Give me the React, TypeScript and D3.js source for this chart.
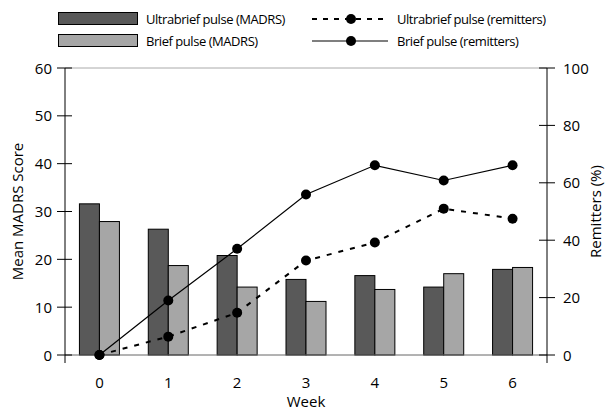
import React from "react";
import * as d3 from "d3";

const weeks = ["0", "1", "2", "3", "4", "5", "6"];
const ultraMadrs = [31.6, 26.3, 20.8, 15.8, 16.6, 14.2, 17.9];
const briefMadrs = [27.9, 18.7, 14.2, 11.2, 13.7, 17.0, 18.3];
const ultraRemit = [0, 6.4, 14.7, 32.9, 39.2, 51.0, 47.5];
const briefRemit = [0, 19.0, 37.0, 55.9, 66.1, 60.8, 66.1];
const leftTicks = [0, 10, 20, 30, 40, 50, 60];
const rightTicks = [0, 20, 40, 60, 80, 100];

const W = 613, H = 413;
const L = 65, R = 547, T = 68, B = 355;
const FONT = "'Open Sans', 'Noto Sans', sans-serif";

export default function App() {
  const x = d3.scaleBand<string>().domain(weeks).range([L, R]).padding(0);
  const yL = d3.scaleLinear().domain([0, 60]).range([B, T]);
  const yR = d3.scaleLinear().domain([0, 100]).range([B, T]);
  const bw = 20;
  const cx = (i: number) => (x(weeks[i]) as number) + x.bandwidth() / 2;
  const line = (vals: number[]) =>
    d3.line<number>().x((_, i) => cx(i)).y((v) => yR(v))(vals) as string;

  return (
    <svg width={W} height={H} style={{ position: "absolute", left: 0, top: 0, background: "#fff" }} fontFamily={FONT}>
      {/* legend */}
      <g>
        <rect x={58.5} y={12.5} width={79} height={12} fill="#595959" stroke="#000" />
        <text x={146} y={23.5} fontSize={13} letterSpacing={-0.45}>Ultrabrief pulse (MADRS)</text>
        <rect x={58.5} y={34.5} width={79} height={12} fill="#a6a6a6" stroke="#000" />
        <text x={146} y={45.5} fontSize={13} letterSpacing={-0.45}>Brief pulse (MADRS)</text>
        <line x1={312} x2={388} y1={19} y2={19} stroke="#000" strokeWidth={2} strokeDasharray="5,6" />
        <circle cx={351} cy={19} r={5} fill="#000" />
        <text x={397} y={23.5} fontSize={13} letterSpacing={-0.45}>Ultrabrief pulse (remitters)</text>
        <line x1={312} x2={388} y1={41} y2={41} stroke="#000" strokeWidth={1.2} />
        <circle cx={351} cy={41} r={5} fill="#000" />
        <text x={397} y={45.5} fontSize={13} letterSpacing={-0.45}>Brief pulse (remitters)</text>
      </g>

      {/* frame lines */}
      <line x1={L} x2={R} y1={T} y2={T} stroke="#aaa" strokeWidth={1} />

      {/* bars */}
      {weeks.map((w, i) => (
        <g key={w}>
          <rect x={cx(i) - bw} y={yL(ultraMadrs[i])} width={bw} height={B - yL(ultraMadrs[i])} fill="#595959" stroke="#000" strokeWidth={1} />
          <rect x={cx(i)} y={yL(briefMadrs[i])} width={bw} height={B - yL(briefMadrs[i])} fill="#a6a6a6" stroke="#000" strokeWidth={1} />
        </g>
      ))}

      <line x1={L} x2={R} y1={B} y2={B} stroke="#666" strokeWidth={1} />

      {/* lines */}
      <path d={line(ultraRemit)} fill="none" stroke="#000" strokeWidth={2} strokeDasharray="5,7" />
      <path d={line(briefRemit)} fill="none" stroke="#000" strokeWidth={1.2} />
      {ultraRemit.map((v, i) => <circle key={"u" + i} cx={cx(i)} cy={yR(v)} r={5} fill="#000" />)}
      {briefRemit.map((v, i) => <circle key={"b" + i} cx={cx(i)} cy={yR(v)} r={5} fill="#000" />)}

      {/* left axis */}
      <line x1={L} x2={L} y1={T} y2={B + 8} stroke="#000" />
      {leftTicks.map((t) => (
        <g key={t}>
          <line x1={L - 8} x2={L + 7} y1={yL(t)} y2={yL(t)} stroke="#000" />
          <text x={52} y={yL(t) + 5.5} textAnchor="end" fontSize={15}>{t}</text>
        </g>
      ))}
      {/* right axis */}
      <line x1={R} x2={R} y1={T} y2={B + 8} stroke="#000" />
      {rightTicks.map((t) => (
        <g key={t}>
          <line x1={R - 8} x2={R + 8} y1={yR(t)} y2={yR(t)} stroke="#000" />
          <text x={563} y={yR(t) + 5.5} textAnchor="start" fontSize={15}>{t}</text>
        </g>
      ))}
      {/* x labels */}
      {weeks.map((w, i) => (
        <text key={w} x={cx(i)} y={388} textAnchor="middle" fontSize={15}>{w}</text>
      ))}
      <text x={(L + R) / 2} y={407} textAnchor="middle" fontSize={15}>Week</text>
      <text transform={`translate(23,${(T + B) / 2}) rotate(-90)`} textAnchor="middle" fontSize={15}>Mean MADRS Score</text>
      <text transform={`translate(601,${(T + B) / 2}) rotate(-90)`} textAnchor="middle" fontSize={15}>Remitters (%)</text>
    </svg>
  );
}
